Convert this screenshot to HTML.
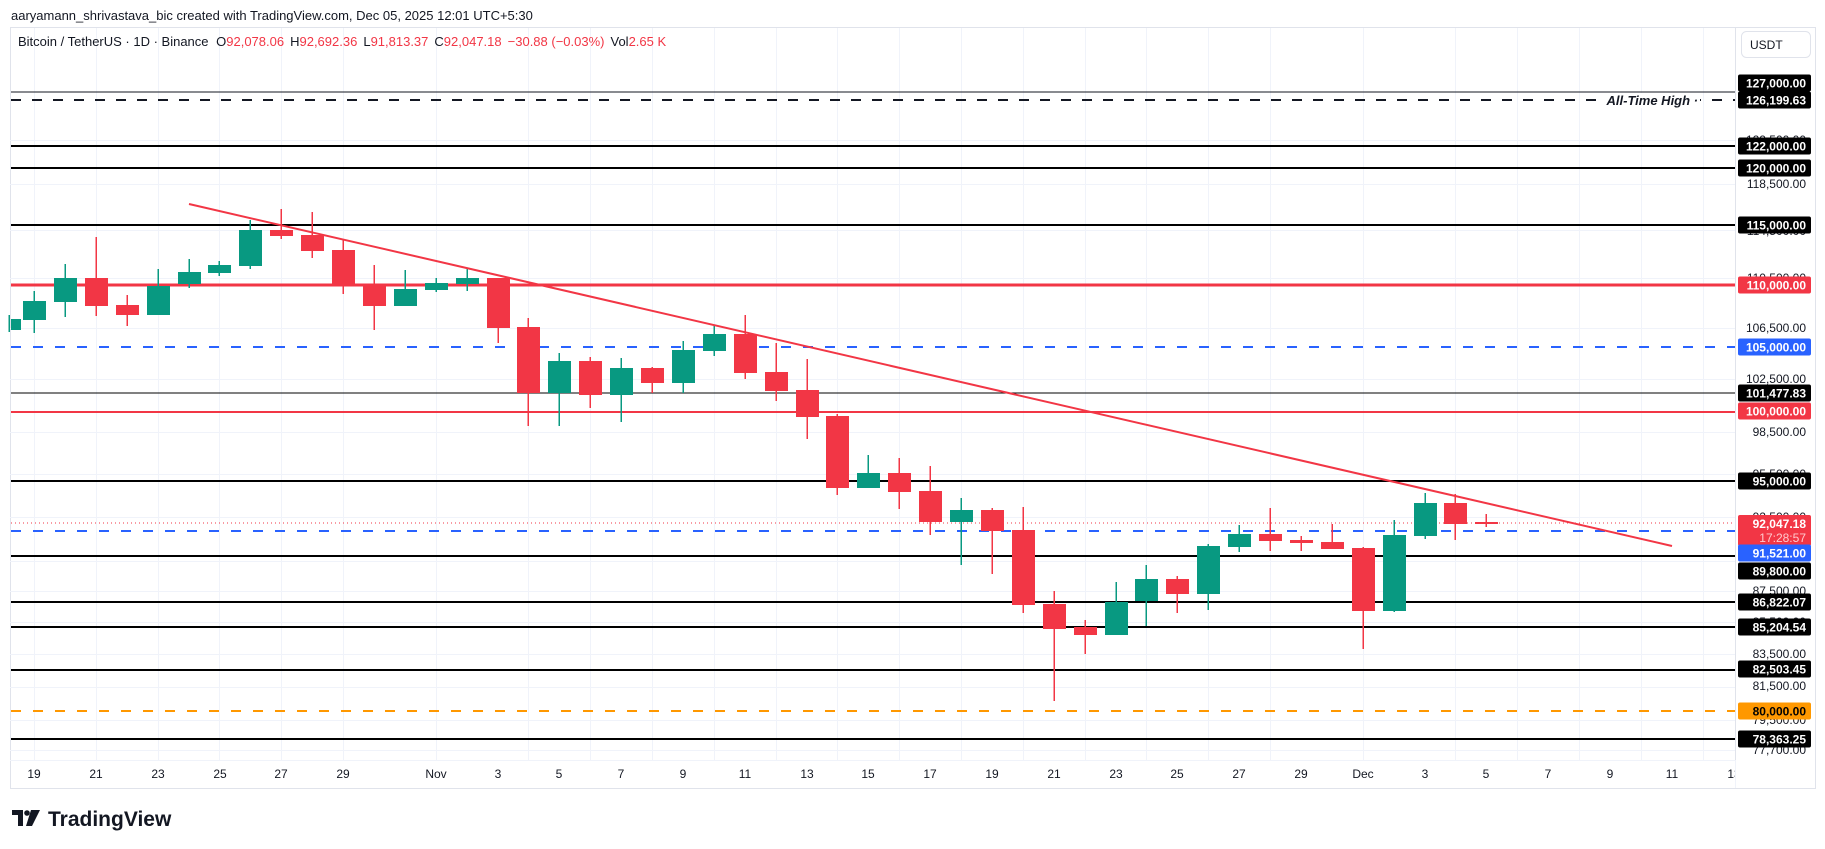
<!DOCTYPE html>
<html><head><meta charset="utf-8">
<style>
html,body{margin:0;padding:0;background:#fff;width:1825px;height:849px;overflow:hidden;font-family:"Liberation Sans","DejaVu Sans",sans-serif;}
svg{display:block}
</style></head><body>
<svg id="c" width="1825" height="849" viewBox="0 0 1825 849" xmlns="http://www.w3.org/2000/svg" font-family="Liberation Sans, DejaVu Sans, sans-serif">
<rect width="1825" height="849" fill="#fff"/>
<text x="11" y="20" font-size="13" fill="#131722">aaryamann_shrivastava_bic created with TradingView.com, Dec 05, 2025 12:01 UTC+5:30</text>
<rect x="10.5" y="27.5" width="1805" height="761" fill="none" stroke="#e0e3eb"/>
<line x1="1735.5" y1="28" x2="1735.5" y2="760" stroke="#e0e3eb"/>
<line x1="10" y1="760.5" x2="1735" y2="760.5" stroke="#f0f3fa"/>
<g id="grid" stroke="#f0f3fa" stroke-width="1"></g>
<g id="hl"></g>
<g id="candles"></g>
<line x1="189" y1="204" x2="1672" y2="546" stroke="#f23645" stroke-width="2"/>
<rect x="1600" y="93" width="100" height="15" fill="#fff"/>
<text x="1698" y="105" font-size="13" font-style="italic" font-weight="bold" fill="#131722" text-anchor="end">All-Time High ·</text>
<text x="18" y="46" font-size="13" fill="#131722">Bitcoin / TetherUS · 1D · Binance <tspan dx="4">O</tspan><tspan fill="#f23645">92,078.06</tspan><tspan dx="6">H</tspan><tspan fill="#f23645">92,692.36</tspan><tspan dx="6">L</tspan><tspan fill="#f23645">91,813.37</tspan><tspan dx="6">C</tspan><tspan fill="#f23645">92,047.18</tspan><tspan dx="6" fill="#f23645">−30.88 (−0.03%)</tspan><tspan dx="6">Vol</tspan><tspan fill="#f23645">2.65 K</tspan></text>
<g id="dates" font-size="12" fill="#131722" text-anchor="middle">
<text x="34" y="778">19</text><text x="96" y="778">21</text><text x="158" y="778">23</text><text x="220" y="778">25</text><text x="281" y="778">27</text><text x="343" y="778">29</text>
<text x="436" y="778">Nov</text><text x="498" y="778">3</text><text x="559" y="778">5</text><text x="621" y="778">7</text><text x="683" y="778">9</text><text x="745" y="778">11</text><text x="807" y="778">13</text><text x="868" y="778">15</text><text x="930" y="778">17</text><text x="992" y="778">19</text><text x="1054" y="778">21</text><text x="1116" y="778">23</text><text x="1177" y="778">25</text><text x="1239" y="778">27</text><text x="1301" y="778">29</text><text x="1363" y="778">Dec</text><text x="1425" y="778">3</text><text x="1486" y="778">5</text><text x="1548" y="778">7</text><text x="1610" y="778">9</text><text x="1672" y="778">11</text><text x="1734" y="778">13</text>
</g>
<rect x="1736" y="28" width="79" height="760" fill="#fff"/>
<line x1="1735.5" y1="760" x2="1735.5" y2="788" stroke="#f0f3fa"/>
<rect x="1741.5" y="31.5" width="69" height="26" rx="5" fill="#fff" stroke="#e0e3eb"/>
<text x="1750" y="49" font-size="12" fill="#131722">USDT</text>
<g font-size="12" fill="#131722" text-anchor="end">
<text x="1806" y="144">122,500.00</text><text x="1806" y="188">118,500.00</text><text x="1806" y="235">114,500.00</text><text x="1806" y="282">110,500.00</text><text x="1806" y="332">106,500.00</text><text x="1806" y="383">102,500.00</text><text x="1806" y="436">98,500.00</text><text x="1806" y="478">95,500.00</text><text x="1806" y="521">92,500.00</text><text x="1806" y="595">87,500.00</text><text x="1806" y="626">85,500.00</text><text x="1806" y="658">83,500.00</text><text x="1806" y="690">81,500.00</text><text x="1806" y="724">79,500.00</text><text x="1806" y="754">77,700.00</text>
</g>
<g id="labels" font-size="12" font-weight="bold" text-anchor="end"></g>
<g transform="translate(12,810)">
<path d="M0 0h11v16h-5V5H0z" fill="#131722"/>
<circle cx="15" cy="3" r="2.8" fill="#131722"/>
<path d="M19 0h9l-8 16h-6z" fill="#131722"/>
</g>
<text x="48" y="826" font-size="21" font-weight="bold" fill="#131722">TradingView</text>
</svg>
<script>
const NS="http://www.w3.org/2000/svg";
function el(p,t,a){const e=document.createElementNS(NS,t);for(const k in a)e.setAttribute(k,a[k]);p.appendChild(e);return e;}
const X0=34,D=30.9;
const grid=document.getElementById('grid');
for(let k=0;k<=56;k+=2){let kk=k; if(k==12) continue; if(k==14) kk=13; if(k==42) continue; if(k==44) kk=43;
 const x=Math.round(X0+D*kk)+0.5; if(x>1735) break; el(grid,'line',{x1:x,y1:28,x2:x,y2:760});}
[140,184,230,278,328,379,432,474,517,561,591,622,654,687,720,750].forEach(y=>el(grid,'line',{x1:10,y1:y+0.5,x2:1735,y2:y+0.5}));
const hl=document.getElementById('hl');
const lines=[[92,'#131722',1,''],[100,'#131722',2,'10 11'],[146,'#000',2,''],[168,'#000',2,''],[225,'#000',2,''],[285,'#f23645',3,''],[347,'#2962ff',2,'10 12'],[393,'#000',1,''],[412,'#f23645',2,''],[481,'#000',2,''],[523,'#f23645',1,'1 3'],[531,'#2962ff',2,'10 12'],[556,'#000',2,''],[602,'#000',2,''],[627,'#000',2,''],[670,'#000',2,''],[711,'#ff9800',2,'10 12'],[739,'#000',2,'']];
lines.forEach(l=>{const a={x1:11,y1:l[0],x2:1735,y2:l[0],stroke:l[1],'stroke-width':l[2]};if(l[3])a['stroke-dasharray']=l[3];el(hl,'line',a);});
const C=[[-0.8,319,330,315,332,1],
[0,301,320,291,333,1],[1,278,302,264,317,1],[2,278,306,237,316,0],[3,305,315,295,326,0],[4,286,315,269,315,1],[5,272,284,259,288,1],[6,265,273,261,276,1],[7,230,266,220,269,1],[8,230,236,209,239,0],[9,235,251,212,258,0],[10,250,285,240,294,0],[11,285,306,265,330,0],[12,289,306,270,306,1],[13,283,290,278,292,1],[14,278,284,269,291,1],[15,278,328,278,343,0],
[16,327,393,318,426,0],[17,361,393,353,426,1],[18,361,395,357,408,0],[19,368,395,358,422,1],[20,368,383,367,393,0],[21,350,383,341,393,1],[22,334,351,325,356,1],[23,334,373,315,379,0],[24,372,391,343,401,0],[25,390,417,359,439,0],[26,416,488,414,495,0],[27,473,488,455,488,1],[28,473,492,458,509,0],[29,491,522,466,535,0],[30,510,522,498,565,1],[31,510,531,508,574,0],
[32,530,605,507,613,0],[33,604,629,591,701,0],[34,627,635,620,654,0],[35,602,635,582,635,1],[36,579,601,565,626,1],[37,579,594,576,613,0],[38,546,594,544,610,1],[39,534,547,525,552,1],[40,534,541,508,551,0],[41,540,543,536,551,0],[42,542,549,524,549,0],[43,548,611,547,649,0],[44,535,611,520,612,1],[45,503,536,493,539,1],[46,503,524,494,540,0],[47,522,524,514,527,0]];
const cg=document.getElementById('candles');
C.forEach(c=>{const x=X0+D*c[0];const col=c[5]?'#089981':'#f23645';
 el(cg,'rect',{x:Math.round(x)-0.5,y:c[3],width:1.5,height:c[4]-c[3],fill:col});
 let bx=Math.round(x)-11, bw=23; if(bx<11){bw-= (11-bx); bx=11;}
 el(cg,'rect',{x:bx,y:c[1],width:bw,height:Math.max(1.5,c[2]-c[1]),fill:col});});
const lg=document.getElementById('labels');
const L=[[83,'127,000.00','#000','#fff'],[100,'126,199.63','#000','#fff'],[146,'122,000.00','#000','#fff'],[168,'120,000.00','#000','#fff'],[225,'115,000.00','#000','#fff'],[285,'110,000.00','#f23645','#fff'],[347,'105,000.00','#2962ff','#fff'],[393,'101,477.83','#000','#fff'],[411,'100,000.00','#f23645','#fff'],[481,'95,000.00','#000','#fff'],[553,'91,521.00','#2962ff','#fff'],[571,'89,800.00','#000','#fff'],[602,'86,822.07','#000','#fff'],[627,'85,204.54','#000','#fff'],[669,'82,503.45','#000','#fff'],[711,'80,000.00','#ff9800','#000'],[739,'78,363.25','#000','#fff']];
el(lg,'rect',{x:1738,y:515,width:73,height:31,fill:'#f23645',rx:2});
let t=el(lg,'text',{x:1806,y:528,fill:'#fff'});t.textContent='92,047.18';
t=el(lg,'text',{x:1806,y:542,fill:'#ffc9cd','font-weight':'normal'});t.textContent='17:28:57';
L.forEach(l=>{el(lg,'rect',{x:1738,y:l[0]-8.5,width:73,height:17,fill:l[2],rx:2});const tt=el(lg,'text',{x:1806,y:l[0]+4.5,fill:l[3]});tt.textContent=l[1];});
</script>
</body></html>
